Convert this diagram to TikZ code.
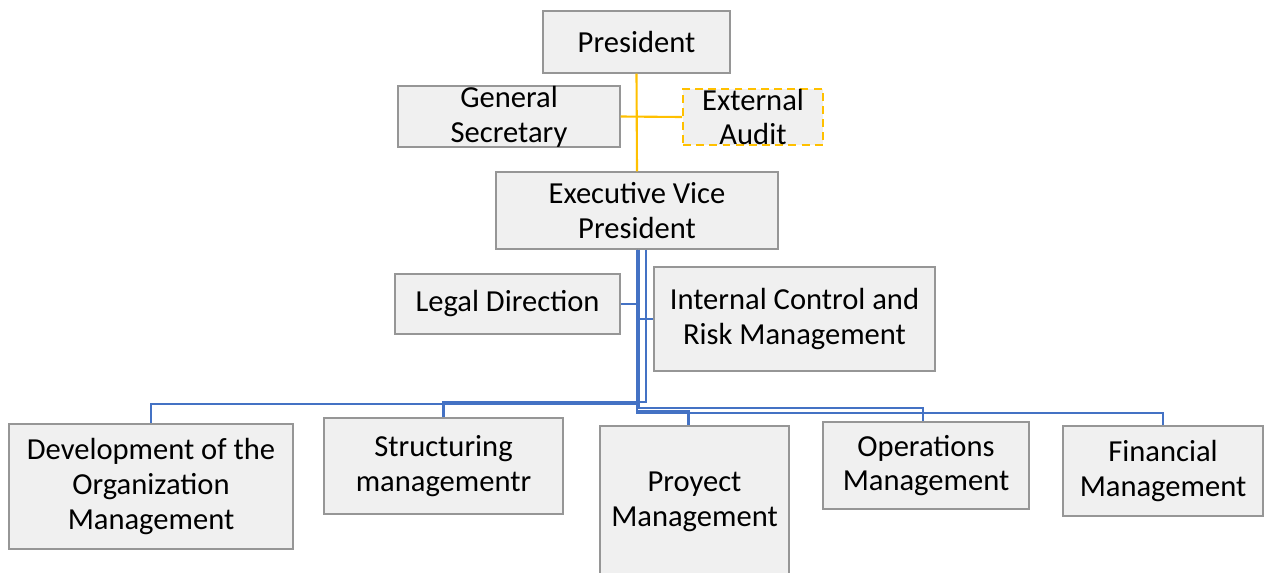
\documentclass[tikz,border=0pt]{standalone}
\usepackage{fontspec}
\setmainfont{Carlito}
\usepackage{tikz}
\usetikzlibrary{positioning}
\definecolor{orgblue}{RGB}{68,114,196}
\definecolor{orggold}{RGB}{255,192,0}
\definecolor{orggray}{RGB}{150,150,150}
\definecolor{orgfill}{RGB}{240,240,240}
\tikzstyle{unit} = [rectangle, align=center, inner sep=0pt, draw=orggray, fill=orgfill, line width=0.8pt, font=\fontsize{17.4}{19.8}\selectfont]
\tikzstyle{advisor} = [unit, draw=orggold, dash pattern=on 4.5pt off 3pt, line width=1.1pt]
\tikzstyle{staffline} = [line width=1.2pt, color=orggold]
\tikzstyle{reportline} = [line width=1.2pt, color=orgblue]

\begin{document}
\begin{tikzpicture}[x=0.02cm, y=-0.02cm]
\useasboundingbox (0,0) rectangle (1264,572);
% Top level
\node (president) [unit, minimum width=3.74cm, minimum height=1.24cm] at (636.5,42) {President};
\node (gensec) [unit, minimum width=4.44cm, minimum height=1.14cm] at (509,116.5) {General\\Secretary};
\node (extaudit) [advisor, minimum width=2.80cm, minimum height=1.12cm] at (753,117) {External\\Audit};
\node (evp) [unit, minimum width=5.64cm, minimum height=1.54cm] at (637,210.5) {Executive Vice\\President};

% Staff units
\node (legal) [unit, minimum width=4.50cm, minimum height=1.20cm] at (507.5,304) {Legal Direction};
\node (internal) [unit, minimum width=5.62cm, minimum height=2.08cm] at (794.5,319) {Internal Control and\\Risk Management};

% Managements
\node (dev) [unit, minimum width=5.68cm, minimum height=2.50cm] at (151,486.5) {Development of the\\Organization\\Management};
\node (struct) [unit, minimum width=4.78cm, minimum height=1.92cm] at (443.5,466) {Structuring\\managementr};
\node (proyect) [unit, minimum width=3.78cm, minimum height=3.02cm] at (694.5,501.5) {Proyect\\Management};
\node (ops) [unit, minimum width=4.12cm, minimum height=1.74cm] at (926,465.5) {Operations\\Management};
\node (fin) [unit, minimum width=4.00cm, minimum height=1.80cm] at (1163,471) {Financial\\Management};

% Lines
\draw[staffline] (president.south) -- (evp.north);
\draw[staffline] (gensec.east) -- (extaudit.west);
\draw[reportline] (evp.south) |- (legal.east);
\draw[reportline] ([xshift=0.04cm]evp.south) |- (internal.west);
\draw[reportline] (evp.south) -- ++(0,154) -| (dev.north);
\draw[reportline] ([xshift=0.18cm]evp.south) -- ++(0,152) -| (struct.north);
\draw[reportline] (evp.south) -- ++(0,161) -| ([xshift=-0.12cm]proyect.north);
\draw[reportline] ([xshift=0.04cm]evp.south) -- ++(0,158) -| ([xshift=-0.06cm]ops.north);
\draw[reportline] (evp.south) -- ++(0,163) -| (fin.north);
\end{tikzpicture}
\end{document}
